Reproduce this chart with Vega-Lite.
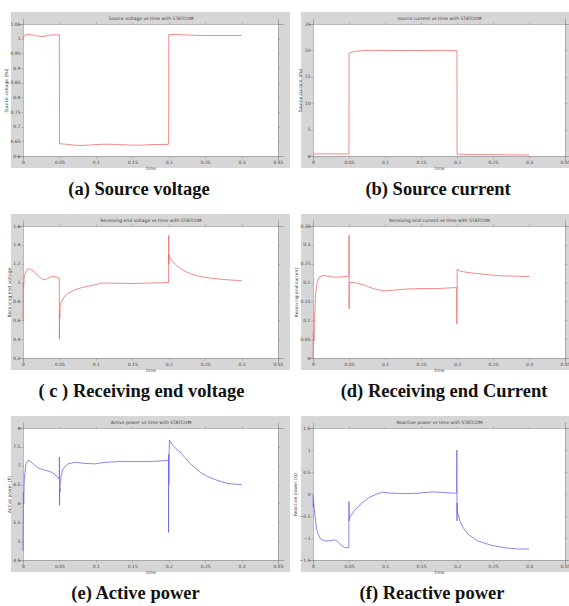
{
  "$schema": "https://vega.github.io/schema/vega-lite/v6.json",
  "background": "white",
  "padding": {"left": -3, "top": 9, "right": 0, "bottom": 0},
  "bounds": "flush",
  "columns": 2,
  "spacing": {"row": 58, "column": 23},
  "config": {
    "view": {"fill": "white", "stroke": "#d6d6d6", "strokeWidth": 12},
    "axis": {"labelFontSize": 4.5, "titleFontSize": 4.5, "labelFont": "DejaVu Sans", "titleFont": "DejaVu Sans", "titleFontWeight": "normal", "labelColor": "#444", "titleColor": "#444", "domainColor": "#8a8a8a", "domainWidth": 0.6, "tickColor": "#8a8a8a", "tickSize": 2, "tickWidth": 0.5, "labelPadding": 1, "titlePadding": 1.5, "offset": -6, "grid": false, "format": "~g"},
    "title": {"font": "Liberation Serif", "fontSize": 18.5, "fontWeight": "bold", "color": "#111", "orient": "bottom", "offset": 10, "anchor": "middle", "frame": "group"}
  },
  "datasets": {
    "a": [
      {"t": 0, "v": 1.0}, {"t": 0.002, "v": 1.01}, {"t": 0.006, "v": 1.015}, {"t": 0.012, "v": 1.013}, {"t": 0.02, "v": 1.009}, {"t": 0.027, "v": 1.007}, {"t": 0.033, "v": 1.01}, {"t": 0.04, "v": 1.013}, {"t": 0.0499, "v": 1.013},
      {"t": 0.0501, "v": 0.642}, {"t": 0.06, "v": 0.64}, {"t": 0.07, "v": 0.637}, {"t": 0.08, "v": 0.636}, {"t": 0.09, "v": 0.637}, {"t": 0.1, "v": 0.639}, {"t": 0.11, "v": 0.64}, {"t": 0.12, "v": 0.64}, {"t": 0.13, "v": 0.639}, {"t": 0.14, "v": 0.638}, {"t": 0.15, "v": 0.637}, {"t": 0.16, "v": 0.637}, {"t": 0.17, "v": 0.638}, {"t": 0.18, "v": 0.639}, {"t": 0.19, "v": 0.639}, {"t": 0.1999, "v": 0.64},
      {"t": 0.2001, "v": 1.014}, {"t": 0.21, "v": 1.014}, {"t": 0.22, "v": 1.013}, {"t": 0.23, "v": 1.012}, {"t": 0.24, "v": 1.011}, {"t": 0.25, "v": 1.011}, {"t": 0.26, "v": 1.011}, {"t": 0.27, "v": 1.011}, {"t": 0.28, "v": 1.011}, {"t": 0.29, "v": 1.011}, {"t": 0.3, "v": 1.011}
    ],
    "b": [
      {"t": 0, "v": 0.35}, {"t": 0.01, "v": 0.4}, {"t": 0.02, "v": 0.42}, {"t": 0.03, "v": 0.4}, {"t": 0.04, "v": 0.38}, {"t": 0.0499, "v": 0.37},
      {"t": 0.0501, "v": 19.5}, {"t": 0.055, "v": 19.7}, {"t": 0.06, "v": 19.85}, {"t": 0.07, "v": 19.95}, {"t": 0.08, "v": 20.0}, {"t": 0.1, "v": 20.0}, {"t": 0.12, "v": 19.98}, {"t": 0.14, "v": 19.97}, {"t": 0.16, "v": 19.97}, {"t": 0.18, "v": 19.96}, {"t": 0.1999, "v": 19.95},
      {"t": 0.2001, "v": 0.35}, {"t": 0.21, "v": 0.3}, {"t": 0.23, "v": 0.27}, {"t": 0.25, "v": 0.25}, {"t": 0.27, "v": 0.22}, {"t": 0.3, "v": 0.2}
    ],
    "c": [
      {"t": 0, "v": 0.59}, {"t": 0.0004, "v": 1.0}, {"t": 0.0008, "v": 0.95}, {"t": 0.0015, "v": 1.05}, {"t": 0.003, "v": 1.1}, {"t": 0.006, "v": 1.14}, {"t": 0.0085, "v": 1.147}, {"t": 0.012, "v": 1.135}, {"t": 0.017, "v": 1.1}, {"t": 0.022, "v": 1.065}, {"t": 0.027, "v": 1.035}, {"t": 0.03, "v": 1.03}, {"t": 0.034, "v": 1.045}, {"t": 0.038, "v": 1.06}, {"t": 0.042, "v": 1.065}, {"t": 0.046, "v": 1.058}, {"t": 0.0498, "v": 1.05},
      {"t": 0.05, "v": 0.4}, {"t": 0.0502, "v": 0.7}, {"t": 0.0505, "v": 0.63}, {"t": 0.051, "v": 0.76}, {"t": 0.053, "v": 0.8}, {"t": 0.056, "v": 0.84}, {"t": 0.06, "v": 0.875}, {"t": 0.065, "v": 0.9}, {"t": 0.07, "v": 0.92}, {"t": 0.08, "v": 0.945}, {"t": 0.09, "v": 0.962}, {"t": 0.1, "v": 0.978}, {"t": 0.105, "v": 0.99}, {"t": 0.11, "v": 0.995}, {"t": 0.12, "v": 0.994}, {"t": 0.13, "v": 0.992}, {"t": 0.14, "v": 0.992}, {"t": 0.15, "v": 0.99}, {"t": 0.16, "v": 0.992}, {"t": 0.17, "v": 0.994}, {"t": 0.18, "v": 0.996}, {"t": 0.19, "v": 0.998}, {"t": 0.1998, "v": 1.0},
      {"t": 0.2, "v": 1.5}, {"t": 0.2002, "v": 1.2}, {"t": 0.2004, "v": 1.3}, {"t": 0.2007, "v": 1.27}, {"t": 0.205, "v": 1.23}, {"t": 0.211, "v": 1.18}, {"t": 0.218, "v": 1.14}, {"t": 0.225, "v": 1.11}, {"t": 0.235, "v": 1.08}, {"t": 0.248, "v": 1.057}, {"t": 0.26, "v": 1.045}, {"t": 0.271, "v": 1.036}, {"t": 0.285, "v": 1.027}, {"t": 0.3, "v": 1.021}
    ],
    "d": [
      {"t": 0, "v": 0.0}, {"t": 0.0005, "v": 0.07}, {"t": 0.0009, "v": 0.05}, {"t": 0.0014, "v": 0.045}, {"t": 0.0023, "v": 0.117}, {"t": 0.0037, "v": 0.172}, {"t": 0.006, "v": 0.203}, {"t": 0.0092, "v": 0.215}, {"t": 0.0138, "v": 0.219}, {"t": 0.0207, "v": 0.217}, {"t": 0.03, "v": 0.214}, {"t": 0.039, "v": 0.215}, {"t": 0.0498, "v": 0.217},
      {"t": 0.05, "v": 0.325}, {"t": 0.0502, "v": 0.13}, {"t": 0.0504, "v": 0.2}, {"t": 0.0511, "v": 0.2}, {"t": 0.0575, "v": 0.2}, {"t": 0.0714, "v": 0.193}, {"t": 0.085, "v": 0.183}, {"t": 0.099, "v": 0.178}, {"t": 0.113, "v": 0.18}, {"t": 0.131, "v": 0.183}, {"t": 0.15, "v": 0.184}, {"t": 0.173, "v": 0.184}, {"t": 0.191, "v": 0.186}, {"t": 0.1996, "v": 0.187},
      {"t": 0.1998, "v": 0.09}, {"t": 0.2, "v": 0.13}, {"t": 0.2003, "v": 0.235}, {"t": 0.205, "v": 0.23}, {"t": 0.214, "v": 0.227}, {"t": 0.228, "v": 0.224}, {"t": 0.242, "v": 0.221}, {"t": 0.26, "v": 0.218}, {"t": 0.283, "v": 0.217}, {"t": 0.3, "v": 0.216}
    ],
    "e": [
      {"t": 0, "v": 4.73}, {"t": 0.0005, "v": 6.3}, {"t": 0.001, "v": 6.0}, {"t": 0.0015, "v": 6.45}, {"t": 0.002, "v": 6.7}, {"t": 0.004, "v": 7.05}, {"t": 0.007, "v": 7.14}, {"t": 0.01, "v": 7.12}, {"t": 0.015, "v": 7.03}, {"t": 0.02, "v": 6.95}, {"t": 0.025, "v": 6.91}, {"t": 0.03, "v": 6.88}, {"t": 0.035, "v": 6.86}, {"t": 0.04, "v": 6.82}, {"t": 0.045, "v": 6.75}, {"t": 0.0498, "v": 6.64},
      {"t": 0.05, "v": 7.23}, {"t": 0.0502, "v": 5.95}, {"t": 0.0504, "v": 6.4}, {"t": 0.0507, "v": 6.3}, {"t": 0.051, "v": 6.5}, {"t": 0.0523, "v": 6.73}, {"t": 0.0546, "v": 6.91}, {"t": 0.0616, "v": 7.05}, {"t": 0.071, "v": 7.09}, {"t": 0.085, "v": 7.06}, {"t": 0.099, "v": 7.05}, {"t": 0.113, "v": 7.09}, {"t": 0.132, "v": 7.11}, {"t": 0.174, "v": 7.11}, {"t": 0.1996, "v": 7.14},
      {"t": 0.1998, "v": 5.23}, {"t": 0.2, "v": 7.3}, {"t": 0.2002, "v": 6.5}, {"t": 0.2004, "v": 7.2}, {"t": 0.201, "v": 7.68}, {"t": 0.203, "v": 7.62}, {"t": 0.205, "v": 7.55}, {"t": 0.21, "v": 7.45}, {"t": 0.2157, "v": 7.36}, {"t": 0.222, "v": 7.22}, {"t": 0.2297, "v": 7.05}, {"t": 0.237, "v": 6.93}, {"t": 0.2437, "v": 6.82}, {"t": 0.253, "v": 6.72}, {"t": 0.2624, "v": 6.64}, {"t": 0.272, "v": 6.58}, {"t": 0.281, "v": 6.53}, {"t": 0.29, "v": 6.51}, {"t": 0.3, "v": 6.5}
    ],
    "f": [
      {"t": 0, "v": -0.02}, {"t": 0.0004, "v": -0.3}, {"t": 0.0008, "v": -0.15}, {"t": 0.0014, "v": -0.29}, {"t": 0.0038, "v": -0.65}, {"t": 0.0061, "v": -0.88}, {"t": 0.0108, "v": -1.03}, {"t": 0.0179, "v": -1.07}, {"t": 0.025, "v": -1.06}, {"t": 0.0297, "v": -1.04}, {"t": 0.0344, "v": -1.08}, {"t": 0.039, "v": -1.16}, {"t": 0.0438, "v": -1.22}, {"t": 0.0498, "v": -1.22},
      {"t": 0.05, "v": -0.17}, {"t": 0.0502, "v": -0.61}, {"t": 0.0505, "v": -0.55}, {"t": 0.052, "v": -0.5}, {"t": 0.055, "v": -0.44}, {"t": 0.058, "v": -0.37}, {"t": 0.0674, "v": -0.21}, {"t": 0.0768, "v": -0.09}, {"t": 0.0862, "v": -0.016}, {"t": 0.0957, "v": 0.04}, {"t": 0.105, "v": 0.024}, {"t": 0.124, "v": 0.008}, {"t": 0.143, "v": 0.016}, {"t": 0.166, "v": 0.047}, {"t": 0.185, "v": 0.032}, {"t": 0.1996, "v": 0.016},
      {"t": 0.1998, "v": 1.0}, {"t": 0.2, "v": -0.61}, {"t": 0.2002, "v": -0.2}, {"t": 0.2004, "v": -0.45}, {"t": 0.2017, "v": -0.45}, {"t": 0.204, "v": -0.61}, {"t": 0.2088, "v": -0.77}, {"t": 0.2158, "v": -0.92}, {"t": 0.2276, "v": -1.06}, {"t": 0.2465, "v": -1.16}, {"t": 0.2653, "v": -1.22}, {"t": 0.2842, "v": -1.25}, {"t": 0.3, "v": -1.25}
    ]
  },
  "concat": [
    {
      "data": {"name": "a"}, "width": 267, "height": 144,
      "title": {"text": "(a) Source voltage", "dx": -11.5},
      "layer": [
        {"mark": {"type": "line", "color": "#f06a6a", "strokeWidth": 0.8},
         "encoding": {
           "x": {"field": "t", "type": "quantitative", "scale": {"domain": [0, 0.35], "nice": false, "padding": 6}, "axis": {"orient": "bottom", "values": [0, 0.05, 0.1, 0.15, 0.2, 0.25, 0.3, 0.35], "title": "time"}},
           "y": {"field": "v", "type": "quantitative", "scale": {"domain": [0.6, 1.05], "nice": false, "zero": false, "padding": 6}, "axis": {"orient": "left", "values": [0.6, 0.65, 0.7, 0.75, 0.8, 0.85, 0.9, 0.95, 1, 1.05], "title": "Source voltage (Pu)"}}
         }},
        {"mark": {"type": "line", "opacity": 0},
         "encoding": {
           "x": {"field": "t", "type": "quantitative", "axis": {"orient": "top", "values": [0, 0.05, 0.1, 0.15, 0.2, 0.25, 0.3, 0.35], "labels": false, "title": "Source voltage vs time with STATCOM"}},
           "y": {"field": "v", "type": "quantitative", "axis": {"orient": "right", "values": [0.6, 0.65, 0.7, 0.75, 0.8, 0.85, 0.9, 0.95, 1, 1.05], "labels": false, "title": null}}
         }}
      ],
      "resolve": {"axis": {"x": "independent", "y": "independent"}}
    },
    {
      "data": {"name": "b"}, "width": 264, "height": 144,
      "title": {"text": "(b) Source current", "dx": -1},
      "layer": [
        {"mark": {"type": "line", "color": "#f06a6a", "strokeWidth": 0.8},
         "encoding": {
           "x": {"field": "t", "type": "quantitative", "scale": {"domain": [0, 0.35], "nice": false, "padding": 6}, "axis": {"orient": "bottom", "values": [0, 0.05, 0.1, 0.15, 0.2, 0.25, 0.3, 0.35], "title": "time", "labelFlush": true}},
           "y": {"field": "v", "type": "quantitative", "scale": {"domain": [0, 25], "nice": false, "zero": false, "padding": 6}, "axis": {"orient": "left", "values": [0, 5, 10, 15, 20, 25], "title": "Source current (Pu)"}}
         }},
        {"mark": {"type": "line", "opacity": 0},
         "encoding": {
           "x": {"field": "t", "type": "quantitative", "axis": {"orient": "top", "values": [0, 0.05, 0.1, 0.15, 0.2, 0.25, 0.3, 0.35], "labels": false, "title": "source current vs time with STATCOM"}},
           "y": {"field": "v", "type": "quantitative", "axis": {"orient": "right", "values": [0, 5, 10, 15, 20, 25], "labels": false, "title": null}}
         }}
      ],
      "resolve": {"axis": {"x": "independent", "y": "independent"}}
    },
    {
      "data": {"name": "c"}, "width": 267, "height": 144,
      "title": {"text": "( c ) Receiving end voltage", "dx": -9},
      "layer": [
        {"mark": {"type": "line", "color": "#f06a6a", "strokeWidth": 0.8},
         "encoding": {
           "x": {"field": "t", "type": "quantitative", "scale": {"domain": [0, 0.35], "nice": false, "padding": 6}, "axis": {"orient": "bottom", "values": [0, 0.05, 0.1, 0.15, 0.2, 0.25, 0.3, 0.35], "title": "time"}},
           "y": {"field": "v", "type": "quantitative", "scale": {"domain": [0.2, 1.6], "nice": false, "zero": false, "padding": 6}, "axis": {"orient": "left", "values": [0.2, 0.4, 0.6, 0.8, 1, 1.2, 1.4, 1.6], "title": "Receiving end voltage"}}
         }},
        {"mark": {"type": "line", "opacity": 0},
         "encoding": {
           "x": {"field": "t", "type": "quantitative", "axis": {"orient": "top", "values": [0, 0.05, 0.1, 0.15, 0.2, 0.25, 0.3, 0.35], "labels": false, "title": "Receiving end voltage vs time with STATCOM"}},
           "y": {"field": "v", "type": "quantitative", "axis": {"orient": "right", "values": [0.2, 0.4, 0.6, 0.8, 1, 1.2, 1.4, 1.6], "labels": false, "title": null}}
         }}
      ],
      "resolve": {"axis": {"x": "independent", "y": "independent"}}
    },
    {
      "data": {"name": "d"}, "width": 264, "height": 144,
      "title": {"text": "(d) Receiving end Current", "dx": 5},
      "layer": [
        {"mark": {"type": "line", "color": "#f06a6a", "strokeWidth": 0.8},
         "encoding": {
           "x": {"field": "t", "type": "quantitative", "scale": {"domain": [0, 0.35], "nice": false, "padding": 6}, "axis": {"orient": "bottom", "values": [0, 0.05, 0.1, 0.15, 0.2, 0.25, 0.3, 0.35], "title": "time", "labelFlush": true}},
           "y": {"field": "v", "type": "quantitative", "scale": {"domain": [0, 0.35], "nice": false, "zero": false, "padding": 6}, "axis": {"orient": "left", "values": [0, 0.05, 0.1, 0.15, 0.2, 0.25, 0.3, 0.35], "title": "Receiving end current"}}
         }},
        {"mark": {"type": "line", "opacity": 0},
         "encoding": {
           "x": {"field": "t", "type": "quantitative", "axis": {"orient": "top", "values": [0, 0.05, 0.1, 0.15, 0.2, 0.25, 0.3, 0.35], "labels": false, "title": "Receiving end current vs time with STATCOM"}},
           "y": {"field": "v", "type": "quantitative", "axis": {"orient": "right", "values": [0, 0.05, 0.1, 0.15, 0.2, 0.25, 0.3, 0.35], "labels": false, "title": null}}
         }}
      ],
      "resolve": {"axis": {"x": "independent", "y": "independent"}}
    },
    {
      "data": {"name": "e"}, "width": 267, "height": 144,
      "title": {"text": "(e) Active power", "dx": -15},
      "layer": [
        {"mark": {"type": "line", "color": "#6868ee", "strokeWidth": 0.8},
         "encoding": {
           "x": {"field": "t", "type": "quantitative", "scale": {"domain": [0, 0.35], "nice": false, "padding": 6}, "axis": {"orient": "bottom", "values": [0, 0.05, 0.1, 0.15, 0.2, 0.25, 0.3, 0.35], "title": "time"}},
           "y": {"field": "v", "type": "quantitative", "scale": {"domain": [4.5, 8], "nice": false, "zero": false, "padding": 6}, "axis": {"orient": "left", "values": [4.5, 5, 5.5, 6, 6.5, 7, 7.5, 8], "title": "Active power (P)"}}
         }},
        {"mark": {"type": "line", "opacity": 0},
         "encoding": {
           "x": {"field": "t", "type": "quantitative", "axis": {"orient": "top", "values": [0, 0.05, 0.1, 0.15, 0.2, 0.25, 0.3, 0.35], "labels": false, "title": "Active power vs time with STATCOM"}},
           "y": {"field": "v", "type": "quantitative", "axis": {"orient": "right", "values": [4.5, 5, 5.5, 6, 6.5, 7, 7.5, 8], "labels": false, "title": null}}
         }}
      ],
      "resolve": {"axis": {"x": "independent", "y": "independent"}}
    },
    {
      "data": {"name": "f"}, "width": 264, "height": 144,
      "title": {"text": "(f) Reactive power", "dx": -7},
      "layer": [
        {"mark": {"type": "line", "color": "#6868ee", "strokeWidth": 0.8},
         "encoding": {
           "x": {"field": "t", "type": "quantitative", "scale": {"domain": [0, 0.35], "nice": false, "padding": 6}, "axis": {"orient": "bottom", "values": [0, 0.05, 0.1, 0.15, 0.2, 0.25, 0.3, 0.35], "title": "time", "labelFlush": true}},
           "y": {"field": "v", "type": "quantitative", "scale": {"domain": [-1.5, 1.5], "nice": false, "zero": false, "padding": 6}, "axis": {"orient": "left", "values": [-1.5, -1, -0.5, 0, 0.5, 1, 1.5], "title": "Reactive power (Q)"}}
         }},
        {"mark": {"type": "line", "opacity": 0},
         "encoding": {
           "x": {"field": "t", "type": "quantitative", "axis": {"orient": "top", "values": [0, 0.05, 0.1, 0.15, 0.2, 0.25, 0.3, 0.35], "labels": false, "title": "Reactive power vs time with STATCOM"}},
           "y": {"field": "v", "type": "quantitative", "axis": {"orient": "right", "values": [-1.5, -1, -0.5, 0, 0.5, 1, 1.5], "labels": false, "title": null}}
         }}
      ],
      "resolve": {"axis": {"x": "independent", "y": "independent"}}
    }
  ]
}
